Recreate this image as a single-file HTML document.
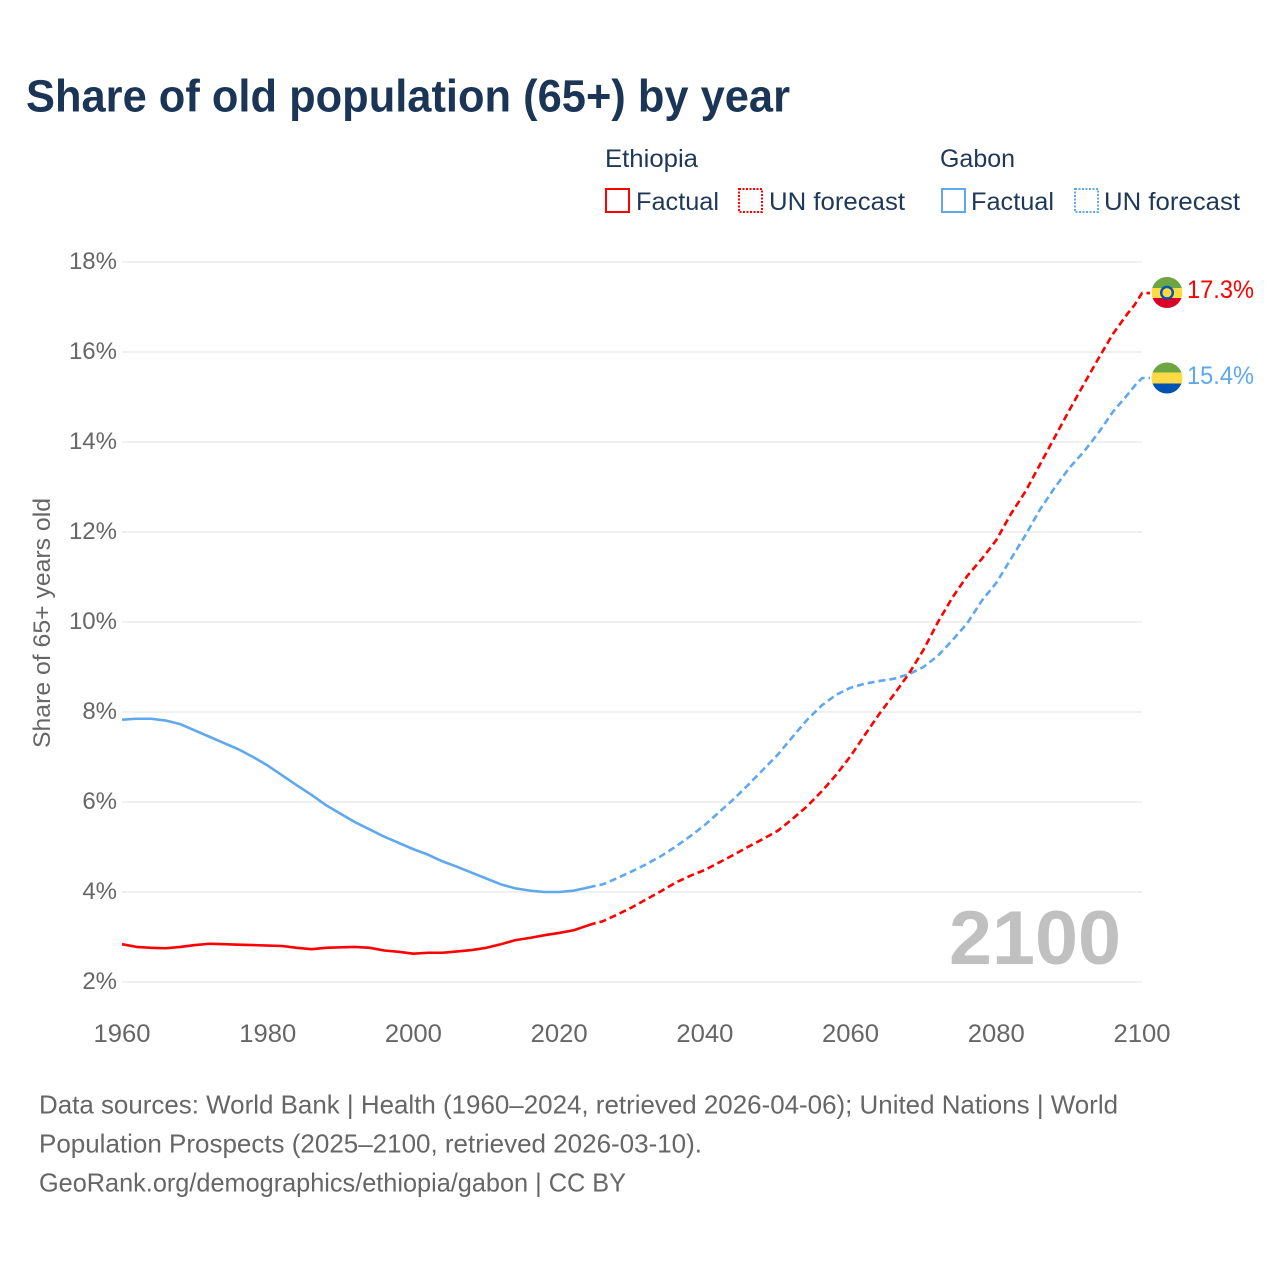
<!DOCTYPE html>
<html lang="en">
<head>
<meta charset="utf-8">
<title>Share of old population (65+) by year</title>
<style>
html,body{margin:0;padding:0;background:#fff;}
svg{display:block;font-family:"Liberation Sans",sans-serif;}
</style>
</head>
<body>
<svg id="chart" width="1280" height="1280" viewBox="0 0 1280 1280" xmlns="http://www.w3.org/2000/svg">
  <defs>
    <clipPath id="flag-clip-a"><circle cx="1167" cy="292.5" r="15.5"/></clipPath>
    <clipPath id="flag-clip-b"><circle cx="1167" cy="378" r="15.5"/></clipPath>
  </defs>
  <rect width="1280" height="1280" fill="#fff"/>
  <text x="26" y="111.500" font-size="45" font-weight="700" fill="#1a3556" textLength="764" lengthAdjust="spacingAndGlyphs">Share of old population (65+) by year</text>

  <g font-size="25" fill="#1f3857">
    <text x="605" y="167" textLength="93" lengthAdjust="spacingAndGlyphs">Ethiopia</text>
    <text x="940" y="167" textLength="75" lengthAdjust="spacingAndGlyphs">Gabon</text>
    <rect x="606" y="189" width="23" height="23" fill="none" stroke="#ff0000" stroke-width="2"/>
    <text x="636" y="210" textLength="83" lengthAdjust="spacingAndGlyphs">Factual</text>
    <rect x="739" y="189" width="23" height="23" fill="none" stroke="#ff0000" stroke-width="2" stroke-dasharray="2 1.5"/>
    <text x="769" y="210" textLength="136" lengthAdjust="spacingAndGlyphs">UN forecast</text>
    <rect x="942" y="189" width="23" height="23" fill="none" stroke="#5fa8ee" stroke-width="2"/>
    <text x="971" y="210" textLength="83" lengthAdjust="spacingAndGlyphs">Factual</text>
    <rect x="1075" y="189" width="23" height="23" fill="none" stroke="#5fa8ee" stroke-width="2" stroke-dasharray="2 1.5"/>
    <text x="1104" y="210" textLength="136" lengthAdjust="spacingAndGlyphs">UN forecast</text>
  </g>

  <text transform="translate(50,748) rotate(-90)" font-size="24" fill="#666" textLength="250" lengthAdjust="spacingAndGlyphs">Share of 65+ years old</text>

  <g id="grid"></g>
  <g id="y-axis"></g>
  <g id="x-axis"></g>

  <text x="949" y="964" font-size="76" font-weight="700" fill="#c0c0c0" textLength="172" lengthAdjust="spacingAndGlyphs">2100</text>

  <g id="series"></g>

  <g clip-path="url(#flag-clip-a)">
    <rect x="1150" y="276" width="34" height="12" fill="#6da544"/>
    <rect x="1150" y="288" width="34" height="10" fill="#ffda44"/>
    <rect x="1150" y="298" width="34" height="12" fill="#d80027"/>
    <circle cx="1167" cy="292.7" r="7" fill="#0052b4"/>
    <circle cx="1167" cy="292.7" r="4.6" fill="#ffda44"/>
  </g>
  <g clip-path="url(#flag-clip-b)">
    <rect x="1150" y="361" width="34" height="11.500" fill="#6da544"/>
    <rect x="1150" y="372.500" width="34" height="11" fill="#ffda44"/>
    <rect x="1150" y="383.500" width="34" height="12" fill="#0052b4"/>
  </g>
  <text x="1187" y="298" font-size="25" fill="#ff0000" textLength="67" lengthAdjust="spacingAndGlyphs">17.3%</text>
  <text x="1187" y="384" font-size="25" fill="#5fa8ee" textLength="67" lengthAdjust="spacingAndGlyphs">15.4%</text>

  <g font-size="26" fill="#666">
    <text x="39" y="1113.500" textLength="1079" lengthAdjust="spacingAndGlyphs">Data sources: World Bank | Health (1960–2024, retrieved 2026-04-06); United Nations | World</text>
    <text x="39" y="1152.500" textLength="663" lengthAdjust="spacingAndGlyphs">Population Prospects (2025–2100, retrieved 2026-03-10).</text>
    <text x="39" y="1191.500" textLength="587" lengthAdjust="spacingAndGlyphs">GeoRank.org/demographics/ethiopia/gabon | CC BY</text>
  </g>
</svg>
<script>
const years = [1960,1962,1964,1966,1968,1970,1972,1974,1976,1978,1980,1982,1984,1986,1988,1990,1992,1994,1996,1998,2000,2002,2004,2006,2008,2010,2012,2014,2016,2018,2020,2022,2024,2025,2026,2028,2030,2032,2034,2036,2038,2040,2042,2044,2046,2048,2050,2052,2054,2056,2058,2060,2062,2064,2066,2068,2070,2072,2074,2076,2078,2080,2082,2084,2086,2088,2090,2092,2094,2096,2098,2099,2100];
const ethiopia = [2.84,2.78,2.76,2.75,2.78,2.82,2.85,2.84,2.83,2.82,2.81,2.80,2.76,2.73,2.76,2.77,2.78,2.76,2.70,2.67,2.63,2.65,2.65,2.68,2.71,2.76,2.84,2.93,2.98,3.04,3.09,3.15,3.26,3.31,3.35,3.50,3.66,3.84,4.02,4.21,4.36,4.49,4.66,4.83,5.01,5.18,5.36,5.62,5.90,6.23,6.60,7.02,7.50,7.97,8.40,8.85,9.38,10.00,10.55,11.02,11.40,11.82,12.40,12.90,13.50,14.10,14.70,15.28,15.85,16.40,16.85,17.05,17.31];
const gabon = [7.83,7.85,7.85,7.81,7.73,7.59,7.45,7.31,7.17,7.00,6.81,6.59,6.37,6.16,5.93,5.74,5.55,5.39,5.23,5.09,4.95,4.83,4.68,4.56,4.43,4.30,4.17,4.08,4.03,4.00,4.00,4.03,4.10,4.14,4.17,4.31,4.46,4.62,4.80,5.01,5.24,5.49,5.78,6.07,6.39,6.72,7.05,7.44,7.82,8.14,8.38,8.54,8.63,8.69,8.74,8.84,9.00,9.25,9.60,9.97,10.47,10.87,11.40,11.93,12.50,12.98,13.42,13.78,14.20,14.67,15.05,15.25,15.42];
const yTicks = [2,4,6,8,10,12,14,16,18];
const xTicks = [1960,1980,2000,2020,2040,2060,2080,2100];
const lastFactualYear = 2025;

const NS = 'http://www.w3.org/2000/svg';
function xScale(year){ return 122 + (year - 1960) * (1020 / 140); }
function yScale(v){ return 982 - (v - 2) * 45; }
function mk(tag, parent, attrs){
  const el = document.createElementNS(NS, tag);
  for (const k in attrs) el.setAttribute(k, attrs[k]);
  parent.appendChild(el);
  return el;
}
const grid = document.getElementById('grid');
const yAxis = document.getElementById('y-axis');
const xAxis = document.getElementById('x-axis');
const seriesG = document.getElementById('series');

yTicks.forEach(function(t){
  const line = mk('line', grid, {x1:122, x2:1142, y1:yScale(t), y2:yScale(t), stroke:'#ececec', 'stroke-width':1.5});
  
  
  const label = mk('text', yAxis, {x:117, y:yScale(t) + 7, 'text-anchor':'end', 'font-size':24, fill:'#666'});
  label.textContent = t + '%';
  
  
});
xTicks.forEach(function(t){
  const label = mk('text', xAxis, {x:xScale(t), y:1042, 'text-anchor':'middle', 'font-size':25, fill:'#666', textLength:57, lengthAdjust:'spacingAndGlyphs'});
  label.textContent = String(t);
  
  
});

function pathFor(values, test){
  let d = '';
  years.forEach(function(y, i){
    if (test(y)) d += (d ? 'L' : 'M') + xScale(y).toFixed(2) + ' ' + yScale(values[i]).toFixed(2);
  });
  return d;
}
function drawSeries(name, values, color){
  const solid = mk('path', seriesG, {d:pathFor(values, function(y){return y <= lastFactualYear;}), fill:'none', stroke:color, 'stroke-width':2.6, 'stroke-linejoin':'round'});
  
  
  const end = values[values.length - 1];
  const d = pathFor(values, function(y){return y >= lastFactualYear;}) + 'L' + (xScale(years[years.length - 1]) + 8) + ' ' + yScale(end).toFixed(2);
  const dashed = mk('path', seriesG, {d:d, fill:'none', stroke:color, 'stroke-width':2.6, 'stroke-dasharray':'7 4', 'stroke-dashoffset':7, 'stroke-linejoin':'round'});
  
  
}
drawSeries('gabon', gabon, '#5fa8ee');
drawSeries('ethiopia', ethiopia, '#ff0000');
</script>
</body>
</html>
